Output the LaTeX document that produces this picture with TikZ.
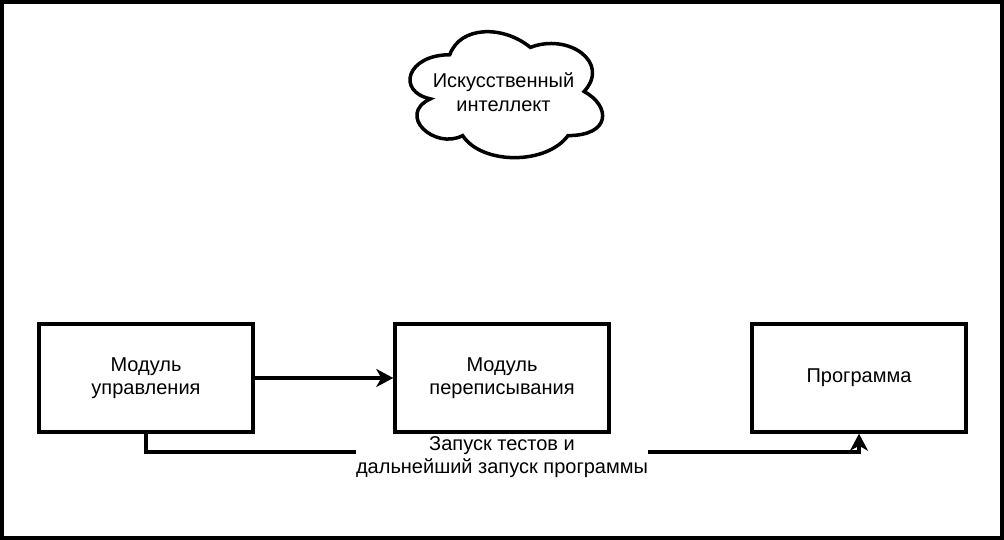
\documentclass[tikz,border=0pt]{standalone}
\usepackage{fontspec}
\setmainfont{Liberation Sans}
\usetikzlibrary{arrows.meta}
\begin{document}
\begin{tikzpicture}[x=1pt,y=-1pt,line width=3.5pt,
  txt/.style={font=\fontsize{20}{23.5}\selectfont, align=center},
  box/.style={txt, draw, line width=3.5pt, minimum width=214pt, minimum height=108pt, inner sep=0pt},
  arr/.style={-{Stealth[length=17pt,width=18pt,inset=5pt]}},
  lbl/.style={txt, fill=white, inner sep=0pt}]
\useasboundingbox (0,0) rectangle (1004,540);
\draw (2,2) rectangle (1002,538);
% cloud
\begin{scope}[shift={(396,18)},x=215pt,y=-147pt]
\draw (0.25,0.25) .. controls (0.05,0.25) and (0,0.5) .. (0.16,0.55)
  .. controls (0,0.66) and (0.18,0.9) .. (0.31,0.8)
  .. controls (0.4,1) and (0.7,1) .. (0.8,0.8)
  .. controls (1,0.8) and (1,0.6) .. (0.875,0.5)
  .. controls (1,0.3) and (0.8,0.1) .. (0.625,0.2)
  .. controls (0.5,0.05) and (0.3,0.05) .. (0.25,0.25) -- cycle;
\end{scope}
\node[txt] (ai) at (503.5,92) {Искусственный\\интеллект};
\node[box] (m1) at (146,378) {Модуль\\управления};
\node[box] (m2) at (502,378) {Модуль\\переписывания};
\node[box] (prog) at (859,378) {Программа};
\draw[arr] (m1.east) -- (m2.west);
\draw[arr] (m1.south) -- ++(0,18) -| (prog.south);
\node[lbl] (run) at (502,457) {Запуск тестов и\\дальнейший запуск программы};
\end{tikzpicture}
\end{document}
